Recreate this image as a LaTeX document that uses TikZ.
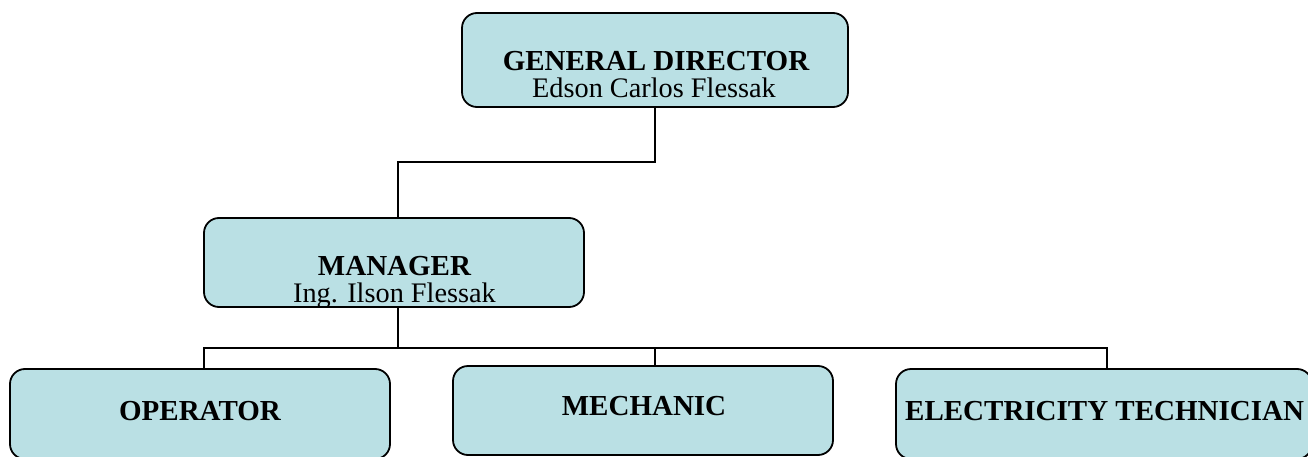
\documentclass[tikz,border=0pt]{standalone}
\usepackage{fontspec}
\setmainfont{Liberation Serif}
\definecolor{boxfill}{RGB}{186,224,228}
\tikzset{
  orgbox/.style={draw=black, line width=1.8pt, fill=boxfill, rounded corners=15pt},
  conn/.style={draw=black, line width=1.6pt},
  titletext/.style={anchor=base, inner sep=0pt, font=\fontsize{29}{27}\selectfont\bfseries},
  nametext/.style={anchor=base, inner sep=0pt, font=\fontsize{28.3}{27}\selectfont},
}
\begin{document}
\begin{tikzpicture}[x=1pt, y=-1pt]
\useasboundingbox (0,0) rectangle (1308,457);
% boxes
\path[orgbox] (462,13) rectangle (848,107);
\node[inner sep=0pt, minimum width=386pt, minimum height=94pt] (gd) at (655,60) {};
\path[orgbox] (204,218) rectangle (584,307);
\node[inner sep=0pt, minimum width=380pt, minimum height=89pt] (mgr) at (394,262.5) {};
\path[orgbox] (10,369) rectangle (390,459);
\node[inner sep=0pt, minimum width=380pt, minimum height=90pt] (op) at (200,414) {};
\path[orgbox] (453,366) rectangle (833,455);
\node[inner sep=0pt, minimum width=380pt, minimum height=89pt] (mech) at (643,410.5) {};
\path[orgbox] (896,369) rectangle (1312,459);
\node[inner sep=0pt, minimum width=416pt, minimum height=90pt] (el) at (1104,414) {};
% texts
\node[titletext] (gdt) at (656,71) {GENERAL DIRECTOR};
\node[nametext] (gdn) at (654,98) {Edson Carlos Flessak};
\node[titletext] (mgrt) at (394.5,275) {MANAGER};
\begin{scope}
\clip (204,218) rectangle (584,306);
\node[nametext] (mgrn) at (394.5,302) {Ing. Ilson Flessak};
\end{scope}
\node[titletext] (opt) at (200,420) {OPERATOR};
\node[titletext] (mecht) at (644,415) {MECHANIC};
\node[titletext, anchor=base west] (elt) at (905,420) {ELECTRICITY TECHNICIAN};
% connectors
\coordinate (m1) at (398,162);
\coordinate (m2) at (398,348);
\coordinate (o1) at (204,348);
\coordinate (k1) at (655,348);
\coordinate (e1) at (1107,348);
\draw[conn] (gd.south) |- (m1) -- (m1 |- mgr.north);
\draw[conn] (m1 |- mgr.south) -- (m2);
\draw[conn] (o1 |- op.north) -- (o1) -- (e1) -- (e1 |- el.north);
\draw[conn] (k1) -- (k1 |- mech.north);
\end{tikzpicture}
\end{document}
